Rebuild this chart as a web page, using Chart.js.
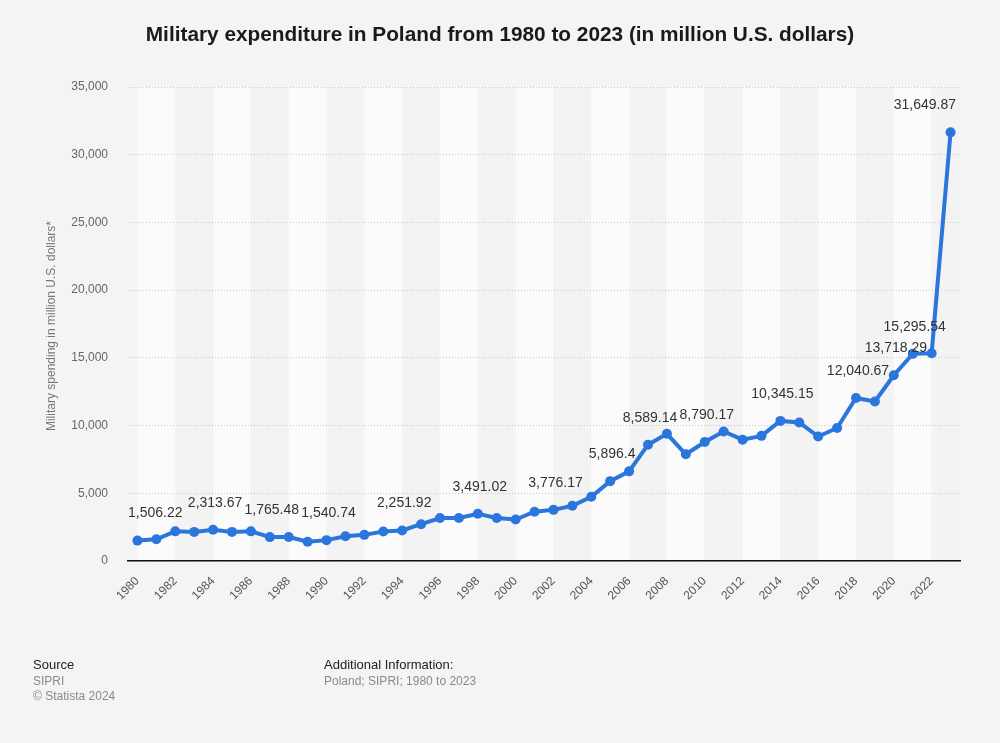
<!DOCTYPE html>
<html>
<head>
<meta charset="utf-8">
<script src="https://cdn.jsdelivr.net/npm/chart.js@4"></script>
<style>
html,body{margin:0;padding:0;background:#f4f4f4;}
canvas{display:block;}
</style>
</head>
<body>
<canvas id="c" width="1000" height="743"></canvas>
<script>
const years = ['1980','1981','1982','1983','1984','1985','1986','1987','1988','1989','1990','1991','1992','1993','1994','1995','1996','1997','1998','1999','2000','2001','2002','2003','2004','2005','2006','2007','2008','2009','2010','2011','2012','2013','2014','2015','2016','2017','2018','2019','2020','2021','2022','2023'];
const spending = [1506.22,1600,2190,2150,2313.67,2150,2190,1765.48,1770,1420,1540.74,1830,1930,2180,2251.92,2720,3170,3180,3491.02,3180,3060,3640,3776.17,4080,4740,5896.4,6620,8589.14,9390,7880,8790.17,9560,8960,9240,10345.15,10230,9190,9820,12040.67,11780,13718.29,15295.54,15340,31649.87];
const labeledIdx = [0,4,7,10,14,18,22,25,27,30,34,38,40,41,43];
const yTicks = [0,5000,10000,15000,20000,25000,30000,35000];

const FONT = '"Liberation Sans", Arial, sans-serif';

const bgPlugin = {
  id: 'bg',
  beforeDraw(chart) {
    const ctx = chart.ctx, a = chart.chartArea, xs = chart.scales.x;
    ctx.save();
    ctx.fillStyle = '#f4f4f4';
    ctx.fillRect(0, 0, chart.width, chart.height);
    ctx.beginPath();
    ctx.rect(a.left, a.top, a.right - a.left, a.bottom - a.top);
    ctx.clip();
    for (let i = 0; i < years.length; i += 2) {
      const x0 = xs.getPixelForValue(i);
      const x1 = i + 2 < years.length ? xs.getPixelForValue(i + 2) : a.right;
      ctx.fillStyle = (i / 2) % 2 === 0 ? '#fbfbfb' : '#f3f3f3';
      ctx.fillRect(x0, a.top, x1 - x0, a.bottom - a.top);
    }
    ctx.restore();
  }
};

const textPlugin = {
  id: 'texts',
  afterDatasetsDraw(chart) {
    const ctx = chart.ctx, a = chart.chartArea;
    const meta = chart.getDatasetMeta(0);
    ctx.save();
    ctx.font = '14px ' + FONT;
    ctx.fillStyle = '#333333';
    ctx.textBaseline = 'middle';
    ctx.textAlign = 'left';
    labeledIdx.forEach(i => {
      const p = meta.data[i];
      const txt = spending[i].toLocaleString('en-US', {maximumFractionDigits: 2});
      const w = ctx.measureText(txt).width;
      let x = p.x - w / 2 + 2;
      if (x < a.left) x = a.left;
      if (x + w > a.right - 4) x = a.right - 4 - w;
      ctx.fillText(txt, x, p.y - 27);
    });
    ctx.restore();
  },
  afterDraw(chart) {
    const ctx = chart.ctx;
    ctx.save();
    ctx.fillStyle = '#1a1a1a';
    ctx.font = 'bold 20.8px ' + FONT;
    ctx.textAlign = 'center';
    ctx.textBaseline = 'middle';
    ctx.fillText('Military expenditure in Poland from 1980 to 2023 (in million U.S. dollars)', 500, 35);

    ctx.save();
    ctx.translate(52, 326);
    ctx.rotate(-Math.PI / 2);
    ctx.font = '12px ' + FONT;
    ctx.fillStyle = '#777777';
    ctx.fillText('Military spending in million U.S. dollars*', 0, 0);
    ctx.restore();

    ctx.textAlign = 'left';
    ctx.font = '13px ' + FONT;
    ctx.fillStyle = '#222222';
    ctx.fillText('Source', 33, 665);
    ctx.fillText('Additional Information:', 324, 665);
    ctx.font = '12px ' + FONT;
    ctx.fillStyle = '#8a8a8a';
    ctx.fillText('SIPRI', 33, 682);
    ctx.fillText('\u00A9 Statista 2024', 33, 697);
    ctx.fillText('Poland; SIPRI; 1980 to 2023', 324, 682);
    ctx.restore();
  }
};

new Chart(document.getElementById('c'), {
  type: 'line',
  data: {
    labels: years,
    datasets: [{
      data: spending,
      borderColor: '#2a76dd',
      backgroundColor: '#2a76dd',
      borderWidth: 4,
      pointRadius: 5,
      pointHoverRadius: 5,
      pointBackgroundColor: '#2a76dd',
      pointBorderWidth: 0,
      tension: 0,
      clip: false
    }]
  },
  options: {
    responsive: false,
    devicePixelRatio: 1,
    animation: false,
    layout: { padding: { top: 87, right: 40, left: 0, bottom: 0 } },
    plugins: { legend: { display: false }, tooltip: { enabled: false }, title: { display: false } },
    scales: {
      x: {
        type: 'category',
        offset: true,
        grid: { display: false, drawTicks: false },
        border: { display: true, color: '#111111', width: 1.5 },
        ticks: {
          autoSkip: false,
          minRotation: 45,
          maxRotation: 45,
          padding: 13,
          color: '#555555',
          font: { family: FONT, size: 12 },
          callback: function(v, i) { return i % 2 === 0 ? years[i] : ''; }
        },
        afterFit(scale) { scale.height = 182; }
      },
      y: {
        min: 0,
        max: 35000,
        afterBuildTicks(scale) { scale.ticks = yTicks.map(v => ({ value: v })); },
        grid: { color: '#c8c8c8', drawTicks: false, lineWidth: 1 },
        border: { display: false, dash: [1, 2] },
        ticks: {
          padding: 20,
          color: '#666666',
          font: { family: FONT, size: 12 },
          callback: v => v.toLocaleString('en-US')
        },
        afterFit(scale) { scale.width = 128; }
      }
    }
  },
  plugins: [bgPlugin, textPlugin]
});
</script>
</body>
</html>
